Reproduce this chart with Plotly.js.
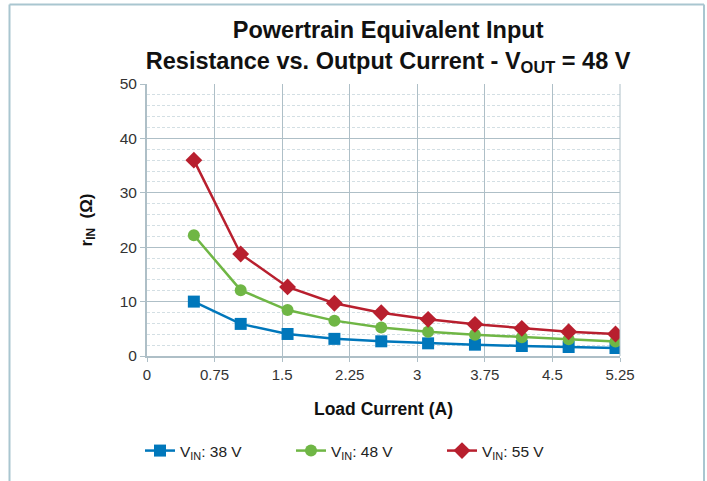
<!DOCTYPE html>
<html>
<head>
<meta charset="utf-8">
<script src="https://cdn.plot.ly/plotly-3.0.1.min.js"></script>
<style>
html,body{margin:0;padding:0;background:#fff;}
#chart{width:707px;height:481px;}
</style>
</head>
<body>
<div id="chart"></div>
<script>
// Data
const loadCurrent = [0.52, 1.04, 1.56, 2.08, 2.6, 3.12, 3.64, 4.16, 4.68, 5.2];
const rin38 = [10.0, 5.9, 4.05, 3.15, 2.7, 2.33, 2.08, 1.84, 1.65, 1.47];
const rin48 = [22.2, 12.1, 8.45, 6.5, 5.25, 4.47, 3.92, 3.43, 3.06, 2.65];
const rin55 = [36.0, 18.75, 12.7, 9.7, 7.96, 6.74, 5.82, 5.08, 4.47, 4.04];
const seriesNames = ['V<sub>IN</sub>: 38 V', 'V<sub>IN</sub>: 48 V', 'V<sub>IN</sub>: 55 V'];
const xTicks = [0, 0.75, 1.5, 2.25, 3, 3.75, 4.5, 5.25];
const xTickLabels = ['0', '0.75', '1.5', '2.25', '3', '3.75', '4.5', '5.25'];
const yTicks = [0, 10, 20, 30, 40, 50];

const W = 707, H = 481;
const L = 147, R = 620, T = 84, B = 356;
const px = v => (v - L) / (R - L);
const py = v => (B - v) / (B - T);

const frameColor = '#a9c6d0';
const gridColor = '#aebfc7';

const traces = [
  {x: loadCurrent, y: rin38, name: seriesNames[0], mode: 'lines+markers',
   line: {color: '#0077bb', width: 2.5}, marker: {symbol: 'square', size: 12, color: '#0077bb'}},
  {x: loadCurrent, y: rin48, name: seriesNames[1], mode: 'lines+markers',
   line: {color: '#6fb645', width: 2.5}, marker: {symbol: 'circle', size: 12, color: '#6fb645'}},
  {x: loadCurrent, y: rin55, name: seriesNames[2], mode: 'lines+markers',
   line: {color: '#b81f2e', width: 2.5}, marker: {symbol: 'diamond', size: 13, color: '#b81f2e'}}
];

const layout = {
  width: W, height: H,
  margin: {l: L, r: W - R, t: T, b: H - B, pad: 0},
  paper_bgcolor: '#ffffff', plot_bgcolor: '#ffffff',
  font: {family: 'Liberation Sans, Arial, sans-serif', color: '#222'},
  title: {
    text: '<b>Powertrain Equivalent Input<br>Resistance vs. Output Current - V<sub>OUT</sub> = 48 V</b>',
    font: {size: 23.5, color: '#111'},
    x: 0.549, xanchor: 'center', yref: 'container', y: 1 - 38 / H, yanchor: 'top'
  },
  showlegend: true,
  legend: {
    orientation: 'h', x: px(140), xanchor: 'left', y: py(451), yanchor: 'middle',
    font: {size: 15.5, color: '#222'}, entrywidth: 106, entrywidthmode: 'pixels',
    itemwidth: 30, bgcolor: 'rgba(0,0,0,0)'
  },
  xaxis: {
    range: [0, 5.25], tickmode: 'array', tickvals: xTicks, ticktext: xTickLabels,
    showgrid: true, gridcolor: gridColor, gridwidth: 1,
    showline: true, linecolor: gridColor, linewidth: 2, mirror: false,
    ticks: 'outside', ticklen: 4, tickcolor: gridColor, tickwidth: 1,
    tickfont: {size: 15, color: '#333'}, zeroline: false,
    title: {text: '<b>Load Current (A)</b>', font: {size: 17.5, color: '#111'}, standoff: 21}
  },
  yaxis: {
    range: [0, 50], tickmode: 'array', tickvals: yTicks,
    showgrid: true, gridcolor: gridColor, gridwidth: 1,
    showline: true, linecolor: gridColor, linewidth: 2,
    ticks: 'outside', ticklen: 5, tickcolor: gridColor, tickwidth: 1,
    tickfont: {size: 15.5, color: '#333'}, zeroline: false,
    minor: {dtick: 2, showgrid: true, gridcolor: '#d3dfe4', griddash: '3px,2px', gridwidth: 1, ticks: ''},
    title: {text: '<b>r<sub>IN</sub>  (Ω)</b>', font: {size: 17, color: '#111'}, standoff: 23}
  },
  shapes: [
    {type: 'line', xref: 'paper', yref: 'paper', x0: px(9.5), x1: px(704), y0: py(4.5), y1: py(4.5), line: {color: frameColor, width: 2}},
    {type: 'line', xref: 'paper', yref: 'paper', x0: px(9.5), x1: px(9.5), y0: py(4.5), y1: py(482), line: {color: frameColor, width: 2}},
    {type: 'line', xref: 'paper', yref: 'paper', x0: px(704), x1: px(704), y0: py(4.5), y1: py(482), line: {color: frameColor, width: 2}},
    {type: 'line', xref: 'paper', yref: 'paper', x0: 1, x1: 1, y0: 0, y1: 1, line: {color: gridColor, width: 1}}
  ]
};

Plotly.newPlot('chart', traces, layout, {displayModeBar: false, staticPlot: true});
</script>
</body>
</html>
